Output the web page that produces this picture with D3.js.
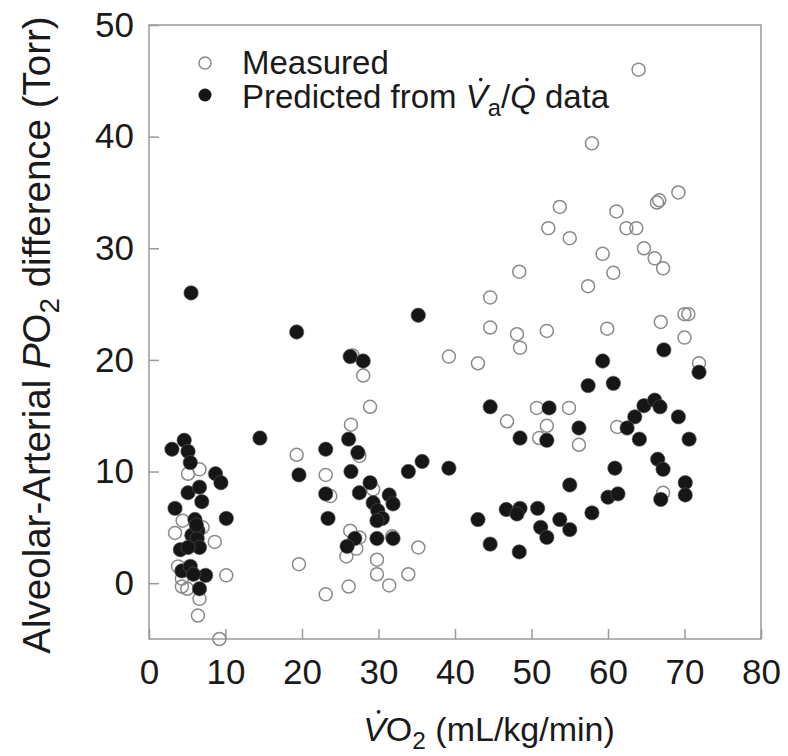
<!DOCTYPE html>
<html>
<head>
<meta charset="utf-8">
<script src="https://cdn.jsdelivr.net/npm/d3@7"></script>
<style>
  body { margin: 0; background: #fff; }
  svg { display: block; font-family: 'Liberation Sans', Arial, sans-serif; }
</style>
</head>
<body>
<div id="chart"></div>
<script>
// open circles (measured), [VO2, A-a PO2 difference]
const measured = [
  [6.6, 10.2], [5.1, 9.8], [4.4, 5.6], [3.4, 4.5], [8.6, 3.7], [3.8, 1.5], [10.1, 0.7], [4.3, 0.4],
  [5.0, -0.5], [4.3, -0.3], [6.6, -1.4], [6.4, -2.9], [9.2, -5.0], [7.0, 5.0], [5.5, 1.0],
  [39.2, 20.3], [28.0, 18.6], [28.9, 15.8], [26.4, 14.2], [27.5, 11.4], [19.3, 11.5], [23.1, 9.7],
  [23.7, 7.8], [29.3, 8.4], [26.3, 4.7], [27.5, 4.1], [27.1, 3.1], [25.8, 2.4], [35.2, 3.2],
  [29.8, 2.1], [19.6, 1.7], [29.8, 0.8], [33.9, 0.8], [31.4, -0.2], [26.1, -0.3], [23.1, -1.0],
  [31.8, 4.2], [26.6, 20.4],
  [48.4, 27.9], [44.6, 25.6], [57.4, 26.6], [59.3, 29.5], [60.7, 27.8], [44.6, 22.9], [48.1, 22.3],
  [48.5, 21.1], [52.0, 22.6], [59.9, 22.8], [43.0, 19.7], [50.7, 15.7], [54.9, 15.7], [46.8, 14.5],
  [52.0, 14.1], [51.0, 13.0], [56.2, 12.4], [61.2, 14.0],
  [64.0, 46.0], [57.9, 39.4], [53.7, 33.7], [52.2, 31.8], [55.0, 30.9], [61.1, 33.3], [62.4, 31.8],
  [63.7, 31.8], [64.7, 30.0], [66.1, 29.1], [67.2, 28.2], [69.2, 35.0], [66.7, 34.3], [66.4, 34.1],
  [66.9, 23.4], [70.0, 24.1], [70.5, 24.1], [70.0, 22.0], [71.9, 19.7], [67.2, 8.1],
]

// filled circles (predicted from Va/Q data)
const predicted = [
  [3.0, 12.0], [4.6, 12.8], [5.1, 11.8], [5.4, 10.8], [8.7, 9.8], [9.4, 9.0], [5.1, 8.1], [6.6, 8.6],
  [6.9, 7.3], [3.4, 6.7], [10.1, 5.8], [6.0, 5.7], [6.4, 4.7], [5.6, 4.3], [6.3, 4.0], [6.6, 3.2],
  [4.1, 3.0], [5.1, 3.2], [4.3, 1.1], [5.4, 1.5], [7.4, 0.7], [5.8, 0.8], [6.6, -0.5], [5.5, 26.0],
  [6.2, 5.2], [14.5, 13.0],
  [19.3, 22.5], [35.2, 24.0], [26.3, 20.3], [28.0, 19.9], [26.1, 12.9], [23.1, 12.0], [27.3, 11.7],
  [19.6, 9.7], [26.4, 10.0], [33.9, 10.0], [35.7, 10.9], [39.2, 10.3], [28.9, 9.0], [23.1, 8.0],
  [27.5, 8.1], [29.3, 7.2], [31.4, 7.9], [31.9, 7.1], [29.9, 6.5], [30.5, 5.8], [29.8, 5.6],
  [23.4, 5.8], [26.9, 4.0], [25.9, 3.3], [29.8, 4.0], [31.9, 4.0],
  [59.3, 19.9], [57.4, 17.7], [60.7, 17.9], [44.6, 15.8], [52.3, 15.7], [56.2, 13.9], [48.5, 13.0],
  [52.0, 12.8], [60.9, 10.3], [55.0, 8.8], [60.0, 7.7], [61.3, 8.0], [57.9, 6.3], [46.7, 6.6],
  [48.5, 6.7], [48.1, 6.2], [50.8, 6.7], [53.7, 5.7], [51.2, 5.0], [55.0, 4.8], [52.0, 4.1],
  [43.0, 5.7], [44.6, 3.5], [48.4, 2.8],
  [67.3, 20.9], [71.9, 18.9], [64.7, 15.9], [66.1, 16.4], [66.8, 15.8], [63.5, 14.9], [69.2, 14.9],
  [62.5, 13.9], [64.1, 12.9], [70.6, 12.9], [66.5, 11.1], [67.2, 10.2], [70.1, 9.0], [70.1, 7.9],
  [66.9, 7.5],
]

const xTicks = [0, 10, 20, 30, 40, 50, 60, 70, 80]
const yTicks = [0, 10, 20, 30, 40, 50]

const width = 788
const height = 756
const margin = { top: 25, right: 27, bottom: 117, left: 149 }
const fontSize = 34
const axisGrey = '#9a9a9a'

const svg = d3
  .select('#chart')
  .append('svg')
  .attr('width', width)
  .attr('height', height)

const x = d3
  .scaleLinear()
  .domain([0, 80])
  .range([margin.left, width - margin.right])

const y = d3
  .scaleLinear()
  .domain([-5, 50])
  .range([height - margin.bottom, margin.top])

// frame
svg
  .append('rect')
  .attr('x', x(0))
  .attr('y', y(50))
  .attr('width', x(80) - x(0))
  .attr('height', y(-5) - y(50))
  .attr('fill', 'none')
  .attr('stroke', axisGrey)
  .attr('stroke-width', 1.5)

const xAxis = svg
  .append('g')
  .attr('transform', `translate(0,${y(-5)})`)
  .call(d3.axisBottom(x).tickValues(xTicks).tickSize(-10).tickPadding(20))

const yAxis = svg
  .append('g')
  .attr('transform', `translate(${x(0)},0)`)
  .call(d3.axisLeft(y).tickValues(yTicks).tickSize(-10).tickPadding(15))

;[xAxis, yAxis].forEach((g) => {
  g.select('.domain').remove()
  g.selectAll('.tick line').attr('stroke', axisGrey).attr('stroke-width', 1.5)
  g.selectAll('.tick text')
    .attr('fill', '#1a1a1a')
    .style('font-size', `${fontSize + 1}px`)
    .style('font-family', "'Liberation Sans', Arial, sans-serif")
})

// points: measured first, predicted drawn over them
svg
  .append('g')
  .selectAll('circle')
  .data(measured)
  .join('circle')
  .attr('cx', (d) => x(d[0]))
  .attr('cy', (d) => y(d[1]))
  .attr('r', 6.5)
  .attr('fill', 'none')
  .attr('stroke', '#8a8a8a')
  .attr('stroke-width', 1.5)

svg
  .append('g')
  .selectAll('circle')
  .data(predicted)
  .join('circle')
  .attr('cx', (d) => x(d[0]))
  .attr('cy', (d) => y(d[1]))
  .attr('r', 7.2)
  .attr('fill', '#161616')
  .attr('stroke', '#555')
  .attr('stroke-width', 0.6)

// puts a dot over a (italic) letter tspan, in the coordinates of its parent g
function dotOver(g, tspan, size) {
  const node = tspan.node()
  const p = node.getStartPositionOfChar(0)
  const w = node.getComputedTextLength()
  g.append('circle')
    .attr('cx', p.x + w * 0.5 + size * 0.12)
    .attr('cy', p.y - size * 0.86)
    .attr('r', size * 0.055)
    .attr('fill', '#1a1a1a')
}

// legend
const legend = svg.append('g')
const legendSize = 33
legend
  .append('circle')
  .attr('cx', 205)
  .attr('cy', 63)
  .attr('r', 6)
  .attr('fill', 'none')
  .attr('stroke', '#8a8a8a')
  .attr('stroke-width', 1.5)
legend
  .append('circle')
  .attr('cx', 205)
  .attr('cy', 95)
  .attr('r', 6.5)
  .attr('fill', '#161616')

legend
  .append('text')
  .attr('x', 242)
  .attr('y', 74)
  .style('font-size', `${legendSize}px`)
  .attr('fill', '#1a1a1a')
  .text('Measured')

const l2 = legend
  .append('text')
  .attr('x', 242)
  .attr('y', 108)
  .style('font-size', `${legendSize}px`)
  .attr('fill', '#1a1a1a')
l2.append('tspan').text('Predicted from ')
const vTs = l2.append('tspan').style('font-style', 'italic').text('V')
l2.append('tspan').attr('dy', 8).style('font-size', '0.72em').text('a')
l2.append('tspan').attr('dy', -8).text('/')
const qTs = l2.append('tspan').style('font-style', 'italic').text('Q')
l2.append('tspan').text(' data')
dotOver(legend, vTs, legendSize)
dotOver(legend, qTs, legendSize)

// x title
const xTitleG = svg.append('g')
const xTitle = xTitleG
  .append('text')
  .attr('x', 489)
  .attr('y', 741)
  .attr('text-anchor', 'middle')
  .style('font-size', `${fontSize}px`)
  .attr('fill', '#1a1a1a')
const xV = xTitle.append('tspan').style('font-style', 'italic').text('V')
xTitle.append('tspan').text('O')
xTitle.append('tspan').attr('dy', 8).style('font-size', '0.72em').text('2')
xTitle.append('tspan').attr('dy', -8).text(' (mL/kg/min)')
dotOver(xTitleG, xV, fontSize)

// y title
const yTitleSize = 38.5
const yTitle = svg
  .append('text')
  .attr('transform', `translate(50,335) rotate(-90)`)
  .attr('text-anchor', 'middle')
  .style('font-size', `${yTitleSize}px`)
  .attr('fill', '#1a1a1a')
yTitle.append('tspan').text('Alveolar-Arterial ')
yTitle.append('tspan').style('font-style', 'italic').text('P')
yTitle.append('tspan').text('O')
yTitle.append('tspan').attr('dy', 9).style('font-size', '0.72em').text('2')
yTitle.append('tspan').attr('dy', -9).text(' difference (Torr)')
</script>
</body>
</html>
